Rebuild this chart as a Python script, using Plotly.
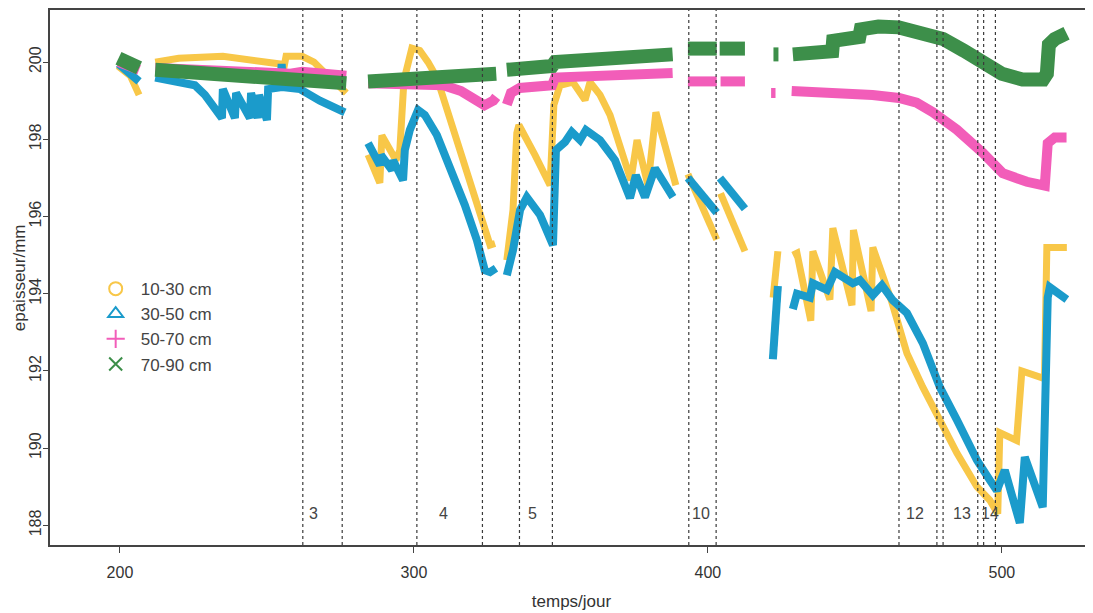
import plotly.graph_objects as go

# ---------------- data (day, thickness mm); None = gap ----------------
DAY_Y = [199.3, 203.5, 206.5, None,
         212, 220, 235, 245, 254.5, 255.5, 256.5, 262, 266, 270, 277, None,
         284.4, 288.4, 289.1, 293.9, 295.2, 296.6, 299.3, 302.0, 304.8, 307.8, 325.9, 327.6, None,
         331.6, 333.7, 335.0, 335.7, 341.2, 346.3, 347.6, 349.7, 354.1, 358.2, 359.9, 363.3, 366.7,
         372.8, 373.8, 375.9, 379.6, 382.3, 387.8, 389.1, None,
         393.2, 403.0, None, 404.3, 412.6, None,
         422.2, 423.8, None,
         428.9, 430.3, 435.0, 435.7, 441.5, 442.5, 449.0, 449.5, 455.5, 456.1, 462.5, 467.7, 473.1,
         478.9, 484.7, 491.5, 495.9, 498.6, 499.3, 505.0, 506.8, 514.5, 515.3, 522.1]
VAL_Y = [199.9, 199.65, 199.15, None,
         200.0, 200.1, 200.15, 200.05, 199.95, 199.75, 200.15, 200.15, 200.0, 199.7, 199.2, None,
         197.6, 196.87, 198.1, 197.46, 197.72, 199.53, 200.36, 200.3, 200.0, 199.6, 195.26, 195.3, None,
         194.87, 196.17, 198.16, 198.37, 197.59, 196.81, 198.89, 199.40, 199.48, 199.02, 199.48, 199.15, 198.63,
         197.2, 196.94, 197.98, 196.81, 198.70, 197.07, 196.81, None,
         197.1, 195.4, None, 196.6, 195.1, None,
         193.9, 195.1, None,
         195.0, 195.05, 193.3, 195.1, 193.85, 195.7, 193.7, 195.65, 193.55, 195.2, 193.8, 192.46, 191.58,
         190.73, 189.87, 189.0, 188.65, 188.3, 190.4, 190.2, 192.0, 191.8, 195.2, 195.2]

DAY_B = [199.5, 206.5, None,
         212, 225.5, 228.9, 234.7, 235.0, 239.1, 239.5, 244.2, 244.6, 246.9, 247.3, 250.0, 250.4,
         254.6, 255.0, 255.5, 261.2, 268.0, 276.5, None,
         284.4, 288.4, 288.8, 292.5, 292.9, 296.3, 296.9, 298.6, 301.4, 303.7, 307.8, 312.2, 317.3,
         321.4, 324.1, 325.9, 327.9, None,
         331.6, 333.7, 336.1, 338.4, 342.9, 347.3, 348.3, 351.4, 353.7, 356.5, 358.5, 363.3, 368.4,
         373.5, 375.5, 378.6, 382.0, 388.1, None,
         393.2, 403.0, None, 404.1, 412.6, None,
         422.1, 422.8, 423.8, None,
         428.9, 430.3, 434.7, 435.7, 440.5, 443.2, 449.3, 451.7, 456.1, 459.2, 462.9, 467.7, 473.1,
         478.9, 484.7, 491.5, 495.9, 498.3, 501.0, 506.1, 507.8, 513.9, 515.6, 516.3, 522.1]
VAL_B = [199.95, 199.5, None,
         199.6, 199.4, 199.15, 198.55, 199.3, 198.55, 199.2, 198.55, 199.2, 198.55, 199.15, 198.5, 199.3,
         199.35, 199.95, 199.35, 199.3, 199.0, 198.7, None,
         197.9, 197.33, 197.59, 197.2, 197.46, 196.94, 197.72, 198.24, 198.76, 198.63, 198.11, 197.33, 196.3,
         195.39, 194.61, 194.56, 194.66, None,
         194.48, 195.13, 196.17, 196.5, 196.04, 195.26, 197.72, 197.93, 198.19, 197.98, 198.24, 197.98, 197.46,
         196.48, 197.07, 196.5, 197.25, 196.5, None,
         197.0, 196.1, None, 197.0, 196.2, None,
         192.3, 193.2, 194.2, None,
         193.6, 194.0, 193.9, 194.27, 194.1, 194.56, 194.27, 194.35, 193.96, 194.22, 193.83, 193.5, 192.72,
         191.58, 190.73, 189.69, 189.17, 188.9, 189.43, 188.06, 189.77, 188.47, 193.9, 194.17, 193.85]

DAY_P = [199.5, 206.5, None,
         212, 240, 258, 262, 277, None,
         284.4, 300, 310, 316, 322, 324, 327, 328, None,
         331.6, 333, 336, 345, 347, 348, 360, 375, 388, None,
         393.2, 403.0, None, 404.3, 412.6, None,
         421.5, 423.0, None,
         428.5, 440, 456, 465, 471, 476.5, 484.7, 493.5, 500.3, 508.5, 514.6, 515.6, 518, 522]
VAL_P = [200.0, 199.8, None,
         199.85, 199.75, 199.7, 199.75, 199.65, None,
         199.45, 199.45, 199.4, 199.25, 199.0, 198.88, 199.0, 199.1, None,
         198.9, 199.2, 199.33, 199.35, 199.4, 199.6, 199.63, 199.67, 199.72, None,
         199.5, 199.5, None, 199.5, 199.5, None,
         199.2, 199.2, None,
         199.25, 199.22, 199.15, 199.07, 198.95, 198.7, 198.25, 197.65, 197.12, 196.9, 196.8, 197.9, 198.05, 198.05]

DAY_G = [199.5, 206.5, None,
         212, 235, 255, 260, 277, None,
         284.4, 300, 310, 328, None,
         331.6, 340, 347, 348, 360, 375, 388, None,
         393.2, 403.0, None, 404.0, 412.6, None,
         422.3, 424.0, None,
         428.9, 438, 442.3, 442.6, 450, 451.5, 452, 458, 465, 472, 480, 487, 494, 500, 507, 514, 515.3,
         516, 518, 522]
VAL_G = [200.1, 199.85, None,
         199.8, 199.65, 199.55, 199.5, 199.45, None,
         199.5, 199.55, 199.6, 199.7, None,
         199.8, 199.85, 199.9, 200.0, 200.05, 200.1, 200.2, None,
         200.35, 200.35, None, 200.35, 200.35, None,
         200.2, 200.2, None,
         200.2, 200.25, 200.28, 200.55, 200.6, 200.65, 200.85, 200.92, 200.9, 200.8, 200.6, 200.3, 199.95,
         199.7, 199.55, 199.55, 199.7, 200.45, 200.6, 200.75]

SERIES_NAMES = ["10-30 cm", "30-50 cm", "50-70 cm", "70-90 cm"]
SERIES_COLORS = ["#F8C748", "#1B9BCB", "#F25DB9", "#3D8F4A"]

PERIOD_LINES = [262.2, 275.6, 301.0, 323.3, 335.9, 347.1, 393.5, 402.8,
                465.0, 477.9, 480.0, 491.8, 493.8, 497.8]
PERIOD_LABELS = ["3", "4", "5", "10", "12", "13", "14"]
PERIOD_LABEL_X = [266.0, 310.0, 340.5, 397.8, 470.4, 486.5, 496.0]
PERIOD_LABEL_Y = 188.3

X_TICKS = [200, 300, 400, 500]
Y_TICKS = [188, 190, 192, 194, 196, 198, 200]

# ---------------- figure ----------------
FONT = "Liberation Sans, Arial, Helvetica, sans-serif"
fig = go.Figure()

line_widths = [7, 8, 10, 14]
symbols = ["circle-open", "triangle-up-open", "cross-thin-open", "x-thin-open"]
data = [(DAY_Y, VAL_Y), (DAY_B, VAL_B), (DAY_P, VAL_P), (DAY_G, VAL_G)]

for (xs, ys), name, col, w in zip(data, SERIES_NAMES, SERIES_COLORS, line_widths):
    fig.add_trace(go.Scatter(x=xs, y=ys, mode="lines", name=name, showlegend=False,
                             connectgaps=False,
                             line=dict(color=col, width=w)))

for name, col, sym in zip(SERIES_NAMES, SERIES_COLORS, symbols):
    fig.add_trace(go.Scatter(x=[None], y=[None], mode="markers", name=name,
                             marker=dict(symbol=sym, color=col, size=13,
                                         line=dict(color=col, width=2))))

for xv in PERIOD_LINES:
    fig.add_shape(type="line", xref="x", yref="paper", x0=xv, x1=xv, y0=0, y1=1,
                  line=dict(color="#3a3a3a", width=1.2, dash="3px,3px"))

for lab, xv in zip(PERIOD_LABELS, PERIOD_LABEL_X):
    fig.add_annotation(x=xv, y=PERIOD_LABEL_Y, text=lab, showarrow=False,
                       font=dict(family=FONT, size=16, color="#444"))

# y-axis title as rotated annotation
fig.add_annotation(xref="paper", yref="paper", x=-0.029, y=0.5, text="epaisseur/mm",
                   textangle=-90, showarrow=False, xanchor="center", yanchor="middle",
                   font=dict(family=FONT, size=17, color="#333"))

fig.update_layout(
    width=1085, height=605,
    margin=dict(l=42, r=0, t=2, b=68, autoexpand=False),
    paper_bgcolor="white", plot_bgcolor="white",
    font=dict(family=FONT, size=16, color="#333"),
    legend=dict(x=0.039, y=0.512, xanchor="left", yanchor="top",
                bgcolor="rgba(0,0,0,0)", font=dict(size=17, color="#444"),
                itemwidth=40, tracegroupgap=0),
    xaxis=dict(range=[176.2, 531.0], tickvals=X_TICKS, ticks="outside", ticklen=6,
               showgrid=False, zeroline=False, showline=True, mirror=True,
               linecolor="#444", linewidth=2, automargin=False, ticklabelstandoff=6,
               title=dict(text="temps/jour", standoff=15, font=dict(size=17))),
    yaxis=dict(range=[187.49, 201.35], tickvals=Y_TICKS, ticks="outside", ticklen=5,
               tickangle=-90, automargin=False, ticklabelstandoff=-4,
               showgrid=False, zeroline=False, showline=True, mirror=True,
               linecolor="#444", linewidth=2),
)

fig.write_html("out.html")
